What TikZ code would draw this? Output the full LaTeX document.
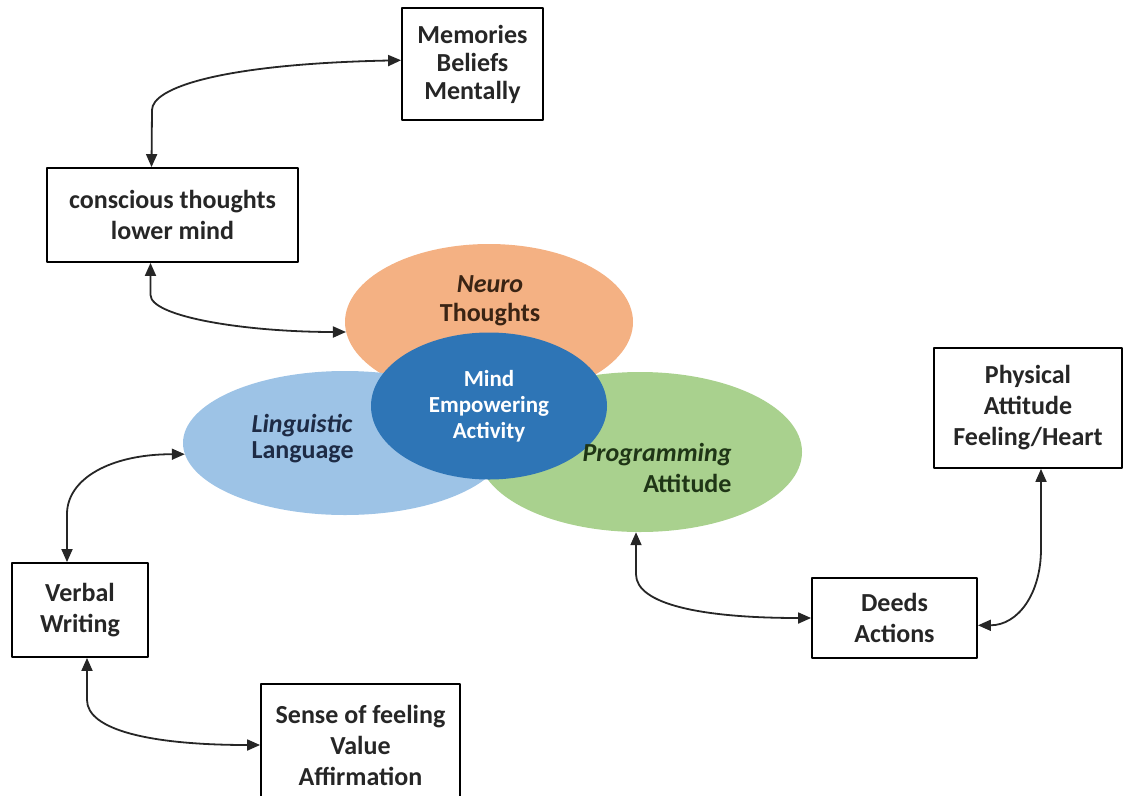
\documentclass[tikz,border=0pt]{standalone}
\usepackage{fontspec}
\setmainfont{Carlito}
\usetikzlibrary{shapes.geometric,arrows.meta}
\definecolor{neurofill}{HTML}{F4B183}
\definecolor{lingfill}{HTML}{9DC3E6}
\definecolor{progfill}{HTML}{A9D18E}
\definecolor{mindfill}{HTML}{2E75B6}
\definecolor{neurotext}{HTML}{3A2414}
\definecolor{lingtext}{HTML}{1E2B45}
\definecolor{progtext}{HTML}{1F3516}
\begin{document}
\begin{tikzpicture}[x=1pt, y=-1pt, line cap=round, line join=round, >={Triangle[length=13pt,width=11pt]}, font=\bfseries\fontsize{26}{31}\selectfont]
	\tikzset{box style/.style={draw, line width=1.8pt, align=center, inner sep=0pt, text=black!85},
		blob style/.style={ellipse, inner sep=0pt},
		link style/.style={<->, line width=1.8pt, black!85}}
	\useasboundingbox (0,0) rectangle (1123,795);
	% the four ellipses
	\node[blob style, fill=neurofill, minimum width=288, minimum height=156] (neuro) at (489,322) {};
	\node[blob style, fill=lingfill, minimum width=324, minimum height=144] (ling) at (345,443) {};
	\node[blob style, fill=progfill, minimum width=324, minimum height=160] (prog) at (640,452) {};
	\node[blob style, fill=mindfill, minimum width=236, minimum height=147] (mind) at (489,406) {};
	\node[align=center, text=neurotext, font=\bfseries\fontsize{26}{29}\selectfont] (neurotxt) at (490,301) {\textit{Neuro}\\Thoughts};
	\node[align=center, text=white, font=\bfseries\fontsize{23}{26}\selectfont] (mindtxt) at (489,406) {Mind\\Empowering\\Activity};
	\node[align=left, anchor=west, text=lingtext, font=\bfseries\fontsize{26}{26}\selectfont] (lingtxt) at (248,439) {\textit{Linguistic}\\Language};
	\node[align=right, anchor=east, text=progtext] (progtxt) at (735,468) {\textit{Programming}\\Attitude};
	% boxes
	\node[box style, minimum width=141, minimum height=112, font=\bfseries\fontsize{26}{28}\selectfont] (memo) at (472.5,64) {Memories\\Beliefs\\Mentally};
	\node[box style, minimum width=251, minimum height=94] (consc) at (172.5,215) {conscious thoughts\\lower mind};
	\node[box style, minimum width=188, minimum height=120] (phys) at (1028,408) {Physical\\Attitude\\Feeling/Heart};
	\node[box style, minimum width=165, minimum height=80] (deeds) at (894.5,618) {Deeds\\Actions};
	\node[box style, minimum width=136, minimum height=94] (verbal) at (80,610) {Verbal\\Writing};
	\node[box style, minimum width=199, minimum height=122] (sense) at (360.5,745) {Sense of feeling\\Value\\Affirmation};
	% links
	\draw[link style] (memo.177) .. controls (220,64) and (152,88) .. (152,110) -- ([xshift=-21pt]consc.north);
	\draw[link style] ([xshift=-22pt]consc.south) -- ++(0,32) .. controls +(0,22) and +(-100,0) .. (neuro.184);
	\draw[link style] ([xshift=-13pt]verbal.north) -- ++(0,-48) .. controls +(0,-35) and +(-75,0) .. (ling.184);
	\draw[link style] ([xshift=7pt]verbal.south) -- ++(0,42) .. controls +(0,30) and +(-110,0) .. (sense.west);
	\draw[link style] ([xshift=-4pt]prog.south) -- ++(0,42) .. controls +(0,30) and +(-110,0) .. (deeds.west);
	\draw[link style] ([xshift=13pt]phys.south) -- ++(0,80) .. controls +(0,45) and +(40,0) .. (deeds.-5);
\end{tikzpicture}
\end{document}
